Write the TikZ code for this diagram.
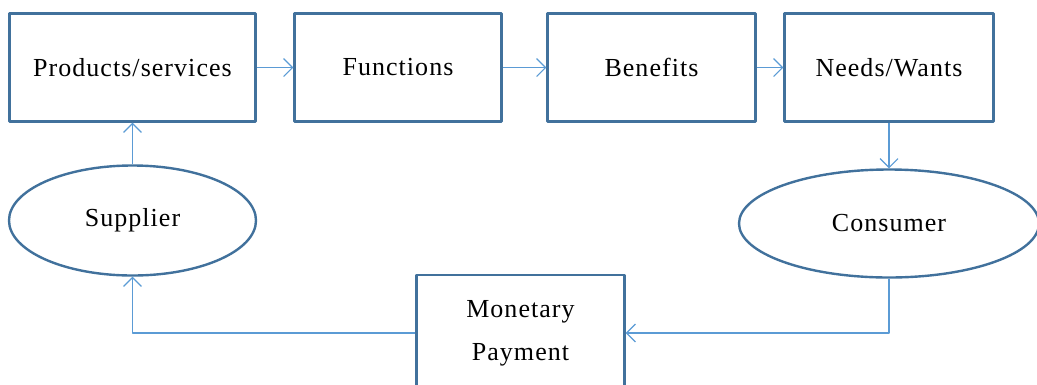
\documentclass[tikz,border=0pt]{standalone}
\usepackage{fontspec}
\setmainfont[LetterSpace=4]{Liberation Serif}
\usetikzlibrary{arrows.meta,shapes.geometric}
\definecolor{boxblue}{HTML}{41719C}
\definecolor{lineblue}{HTML}{5B9BD5}
\begin{document}
\begin{tikzpicture}[x=1pt,y=-1pt,line join=round,>={Straight Barb[length=9pt,width=18pt]},
  font=\fontsize{26}{43}\selectfont,
  stepbox/.style={draw=boxblue,line width=2.4pt,minimum height=108pt,inner sep=0pt},
  party/.style={ellipse,draw=boxblue,line width=2.4pt,inner sep=0pt},
  flow/.style={draw=lineblue,line width=1.1pt,->}]
  \useasboundingbox (0,0) rectangle (1037,384);
  \node[stepbox,minimum width=246pt] (prod) at (132.5,67.5) {Products/services};
  \node[stepbox,minimum width=207pt] (func) at (398,67.5) {Functions};
  \node[stepbox,minimum width=208pt] (bene) at (651.5,67.5) {Benefits};
  \node[stepbox,minimum width=209pt] (need) at (889,67.5) {Needs/Wants};
  \node[party,minimum width=247pt,minimum height=110pt] (supp) at (132.5,220.5) {Supplier};
  \node[party,minimum width=300pt,minimum height=108pt] (cons) at (889,223.5) {Consumer};
  \node[stepbox,minimum width=208pt,minimum height=116pt,align=center] (pay) at (520.5,333) {Monetary\\Payment};
  \draw[flow] (prod) -- (func);
  \draw[flow] (func) -- (bene);
  \draw[flow] (bene) -- (need);
  \draw[flow] (need.south) -- (cons.north);
  \draw[flow] (cons.south) |- (pay.east);
  \draw[flow] (pay.west) -| (supp.south);
  \draw[flow] (supp.north) -- (prod.south);
\end{tikzpicture}
\end{document}
